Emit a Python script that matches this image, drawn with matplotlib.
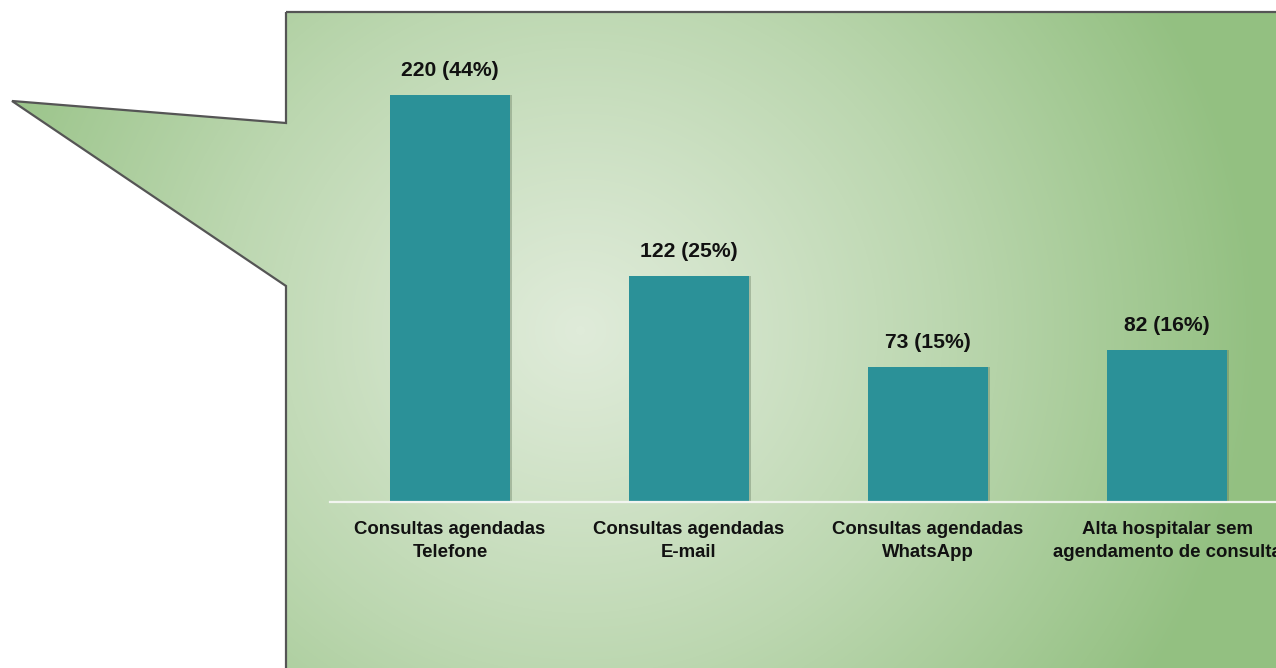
import matplotlib
matplotlib.use("Agg")
import matplotlib.pyplot as plt
import numpy as np
from matplotlib.patches import Polygon
from matplotlib.colors import LinearSegmentedColormap

# dados do gráfico
categorias = ["Consultas agendadas\nTelefone",
              "Consultas agendadas\nE-mail",
              "Consultas agendadas\nWhatsApp",
              "Alta hospitalar sem\nagendamento de consulta"]
valores = [220, 122, 73, 82]
percentuais = [44, 25, 15, 16]

plt.rcParams['font.family'] = ['Liberation Sans', 'DejaVu Sans']

W, H = 1276, 668
fig = plt.figure(figsize=(W / 100, H / 100), dpi=100)
fig.patch.set_facecolor('white')

# fundo: balão com gradiente radial
bg = fig.add_axes([0, 0, 1, 1])
bg.set_xlim(0, W)
bg.set_ylim(H, 0)
bg.axis('off')

yy, xx = np.mgrid[0:H, 0:W]
d = np.hypot((xx - 580) / 1.0, (yy - 330) / 0.95)
t = np.clip((d / 680) ** 1.1, 0, 1)
cmap = LinearSegmentedColormap.from_list('verde', ['#dfebd9', '#bcd7b0', '#93c081'])
img = bg.imshow(t, cmap=cmap, extent=(0, W, H, 0), interpolation='bilinear', zorder=1)

balao = [(286, 12), (W + 20, 12), (W + 20, H + 20), (286, H + 20),
         (286, 286), (12, 101), (286, 123)]
clip = Polygon(balao, closed=True, transform=bg.transData, facecolor='none', edgecolor='none')
bg.add_patch(clip)
img.set_clip_path(clip)
bg.add_patch(Polygon(balao, closed=True, facecolor='none', edgecolor='#555555',
                     linewidth=1.6, zorder=2))

# eixo das barras
px_left, px_right = 330, W
base_y, top_y = 502, 12
ax = fig.add_axes([px_left / W, (H - base_y) / H, (px_right - px_left) / W, (base_y - top_y) / H])
ax.patch.set_alpha(0)

x = np.arange(len(valores))
esp = 239.0
ax.set_xlim((px_left - 450) / esp, (px_right - 450) / esp)
ax.set_ylim(0, (base_y - top_y) / 1.85)

# sombra leve
ax.bar(x + 0.008, valores, width=120 / esp, color='#5a6f55', alpha=0.35, zorder=1)
ax.bar(x, valores, width=120 / esp, color='#2b9198', zorder=2)

for xi, v, p in zip(x, valores, percentuais):
    ax.annotate(f"{v} ({p}%)", (xi, v), xytext=(0, 11), textcoords='offset points',
                ha='center', va='bottom', fontsize=15.2, fontweight='bold', color='#111111')

ax.set_xticks(x)
ax.set_xticklabels(categorias, fontsize=13.4, fontweight='bold', color='#111111',
                   linespacing=1.42)
ax.tick_params(axis='x', length=0, pad=14)
ax.set_yticks([])
for s in ['top', 'right', 'left']:
    ax.spines[s].set_visible(False)
ax.spines['bottom'].set_color('#f2f5f0')
ax.spines['bottom'].set_linewidth(1.6)

fig.savefig('out.png', dpi=100)
